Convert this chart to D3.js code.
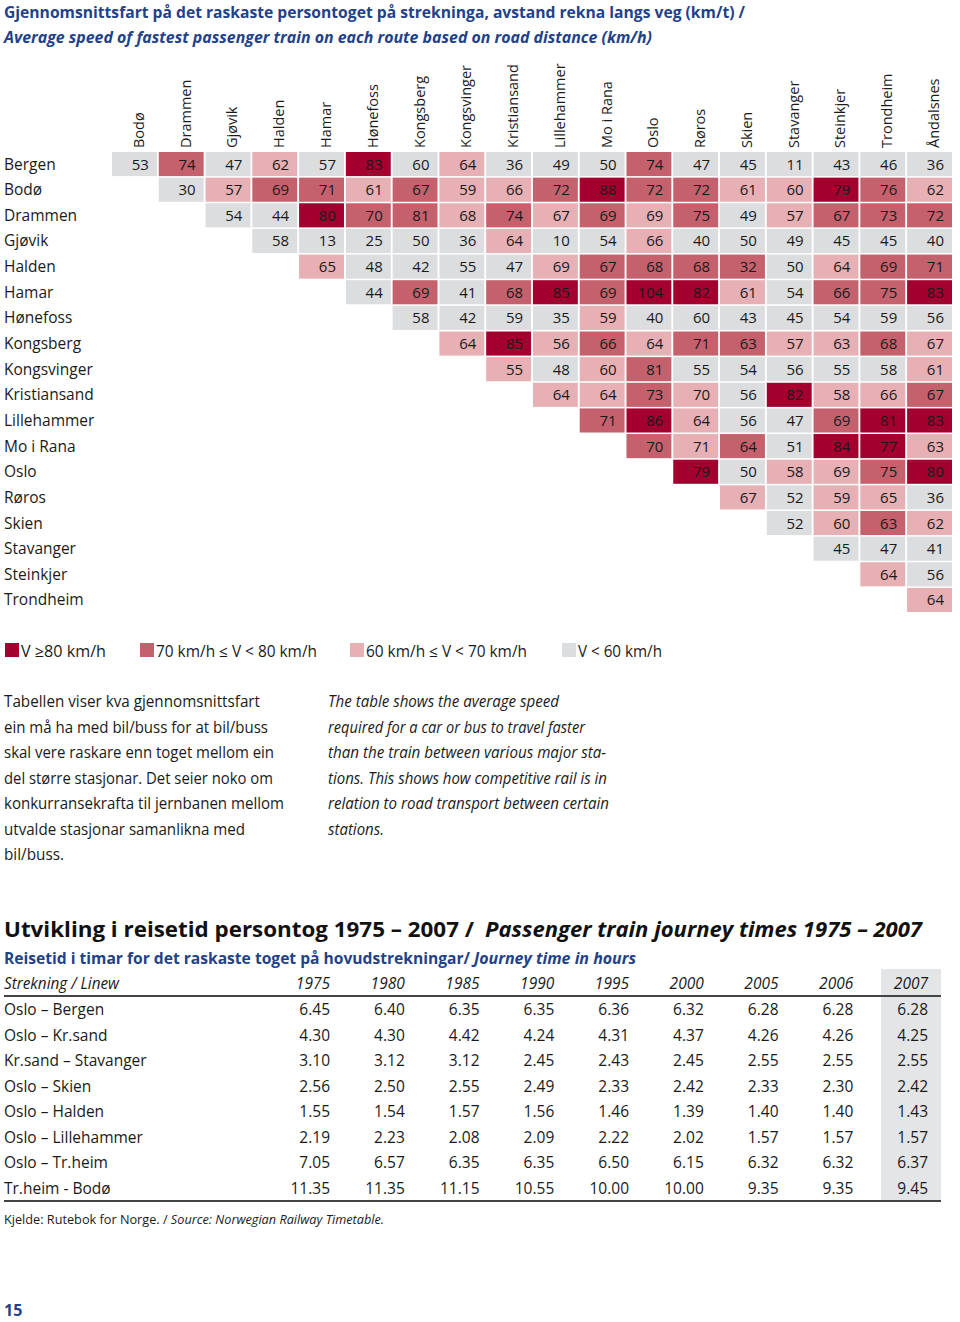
<!DOCTYPE html>
<html>
<head>
<meta charset="utf-8">
<script src="https://cdn.jsdelivr.net/npm/d3@7"></script>
<style>
  html, body { margin: 0; padding: 0; background: #fff; }
  svg { display: block; font-family: "Open Sans", "Noto Sans", sans-serif; }
</style>
</head>
<body>
<svg id="chart" width="960" height="1322"></svg>
<script>
// ---------------- DATA ----------------
const titleLine1 = "Gjennomsnittsfart på det raskaste persontoget på strekninga, avstand rekna langs veg (km/t) /";
const titleLine2 = "Average speed of fastest passenger train on each route based on road distance (km/h)";

const fromStations = ["Bergen","Bodø","Drammen","Gjøvik","Halden","Hamar","Hønefoss","Kongsberg","Kongsvinger",
  "Kristiansand","Lillehammer","Mo i Rana","Oslo","Røros","Skien","Stavanger","Steinkjer","Trondheim"];
const toStations = ["Bodø","Drammen","Gjøvik","Halden","Hamar","Hønefoss","Kongsberg","Kongsvinger","Kristiansand",
  "Lillehammer","Mo i Rana","Oslo","Røros","Skien","Stavanger","Steinkjer","Trondheim","Åndalsnes"];

// each row starts at the destination with the same index as the row
const speeds = [
  [53,74,47,62,57,83,60,64,36,49,50,74,47,45,11,43,46,36],
  [30,57,69,71,61,67,59,66,72,88,72,72,61,60,79,76,62],
  [54,44,80,70,81,68,74,67,69,69,75,49,57,67,73,72],
  [58,13,25,50,36,64,10,54,66,40,50,49,45,45,40],
  [65,48,42,55,47,69,67,68,68,32,50,64,69,71],
  [44,69,41,68,85,69,104,82,61,54,66,75,83],
  [58,42,59,35,59,40,60,43,45,54,59,56],
  [64,85,56,66,64,71,63,57,63,68,67],
  [55,48,60,81,55,54,56,55,58,61],
  [64,64,73,70,56,82,58,66,67],
  [71,86,64,56,47,69,81,83],
  [70,71,64,51,84,77,63],
  [79,50,58,69,75,80],
  [67,52,59,65,36],
  [52,60,63,62],
  [45,47,41],
  [64,56],
  [64]
];
// speed class as printed: d = ≥80, m = 70–80, l = 60–70, g = <60
const speedClass = [
  ["g","m","g","l","g","d","g","l","g","g","g","m","g","g","g","g","g","g"],
  ["g","l","m","m","l","m","l","l","m","d","m","m","l","l","d","m","l"],
  ["g","g","d","m","m","l","m","l","m","l","m","g","l","m","m","m"],
  ["g","g","g","g","g","l","g","g","l","g","g","g","g","g","g"],
  ["l","g","g","g","g","l","m","m","m","m","g","l","m","m"],
  ["g","m","g","m","d","m","d","d","l","g","m","m","d"],
  ["g","g","g","g","l","g","g","g","g","g","g","g"],
  ["l","d","l","m","l","m","m","l","l","m","l"],
  ["l","g","l","m","g","g","g","g","g","l"],
  ["l","l","m","l","g","d","l","l","m"],
  ["m","d","l","g","g","m","d","d"],
  ["m","l","m","g","d","d","l"],
  ["d","g","l","l","m","d"],
  ["l","g","l","l","g"],
  ["g","l","m","l"],
  ["g","g","g"],
  ["l","g"],
  ["l"]
];
const legendClasses = ["d","m","l","g"];
const legendLabels = ["V ≥80 km/h","70 km/h ≤ V < 80 km/h","60 km/h ≤ V < 70 km/h","V < 60 km/h"];

const textNo = ["Tabellen viser kva gjennomsnittsfart","ein må ha med bil/buss for at bil/buss",
  "skal vere raskare enn toget mellom ein","del større stasjonar. Det seier noko om",
  "konkurransekrafta til jernbanen mellom","utvalde stasjonar samanlikna med","bil/buss."];
const textEn = ["The table shows the average speed","required for a car or bus to travel faster",
  "than the train between various major sta-","tions. This shows how competitive rail is in",
  "relation to road transport between certain","stations."];

const title2a = "Utvikling i reisetid persontog 1975 – 2007 /";
const title2b = "Passenger train journey times 1975 – 2007";
const sub2a = "Reisetid i timar for det raskaste toget på hovudstrekningar/";
const sub2b = "Journey time in hours";
const lineHeader = "Strekning / Linew";
const years = ["1975","1980","1985","1990","1995","2000","2005","2006","2007"];
const lines = ["Oslo – Bergen","Oslo – Kr.sand","Kr.sand – Stavanger","Oslo – Skien","Oslo – Halden",
  "Oslo – Lillehammer","Oslo – Tr.heim","Tr.heim - Bodø"];
const journeyTimes = [
  ["6.45","6.40","6.35","6.35","6.36","6.32","6.28","6.28","6.28"],
  ["4.30","4.30","4.42","4.24","4.31","4.37","4.26","4.26","4.25"],
  ["3.10","3.12","3.12","2.45","2.43","2.45","2.55","2.55","2.55"],
  ["2.56","2.50","2.55","2.49","2.33","2.42","2.33","2.30","2.42"],
  ["1.55","1.54","1.57","1.56","1.46","1.39","1.40","1.40","1.43"],
  ["2.19","2.23","2.08","2.09","2.22","2.02","1.57","1.57","1.57"],
  ["7.05","6.57","6.35","6.35","6.50","6.15","6.32","6.32","6.37"],
  ["11.35","11.35","11.15","10.55","10.00","10.00","9.35","9.35","9.45"]
];
const highlightYear = "2007";
const sourceNo = "Kjelde: Rutebok for Norge. / ";
const sourceEn = "Source: Norwegian Railway Timetable.";
const pageNumber = "15";

// ---------------- DRAWING ----------------
const svg = d3.select("#chart");
const BLUE = "#1f4289", INK = "#1a1a1a";
const color = d3.scaleOrdinal().domain(["d","m","l","g"]).range(["#a3002f","#c4616d","#e6b0b4","#dcdddf"]);

function fit(sel, w) {
  sel.attr("textLength", w).attr("lengthAdjust", "spacingAndGlyphs");
  return sel;
}

// Titles
fit(svg.append("text").attr("x", 4).attr("y", 18).attr("fill", BLUE)
  .attr("font-size", 16.5).attr("font-weight", 700).text(titleLine1), 741);
fit(svg.append("text").attr("x", 4).attr("y", 43).attr("fill", BLUE)
  .attr("font-size", 16.5).attr("font-weight", 700).attr("font-style", "italic").text(titleLine2), 648);

// Heatmap scales
const x = d3.scaleBand().domain(toStations).range([112, 952]).paddingInner(0.04).paddingOuter(0);
const y = d3.scaleBand().domain(fromStations).range([152, 612]).paddingInner(0.06).paddingOuter(0);

const cells = [];
speeds.forEach((row, i) => row.forEach((v, k) => {
  cells.push({ from: fromStations[i], to: toStations[i + k], value: v, cls: speedClass[i][k] });
}));

// column labels
svg.append("g").selectAll("text").data(toStations).join("text")
  .attr("transform", d => `translate(${x(d) + x.bandwidth() - 13},148) rotate(-90)`)
  .attr("font-size", 14.5).attr("fill", INK).text(d => d);

// row labels
svg.append("g").selectAll("text").data(fromStations).join("text")
  .attr("x", 4).attr("y", d => y(d) + y.bandwidth() / 2 + 5.5)
  .attr("font-size", 15.5).attr("fill", INK).text(d => d);

const cg = svg.append("g").selectAll("g").data(cells).join("g");
cg.append("rect")
  .attr("x", d => x(d.to)).attr("y", d => y(d.from))
  .attr("width", x.bandwidth()).attr("height", y.bandwidth())
  .attr("fill", d => color(d.cls));
cg.append("text")
  .attr("x", d => x(d.to) + x.bandwidth() - 8)
  .attr("y", d => y(d.from) + y.bandwidth() / 2 + 5.5)
  .attr("text-anchor", "end").attr("font-size", 15).attr("fill", INK)
  .text(d => d.value);

// Legend
const legX = d3.scaleOrdinal().domain(legendClasses).range([5, 140, 350, 562]);
const legW = d3.scaleOrdinal().domain(legendClasses).range([85, 161, 161, 84]);
const lg = svg.append("g").selectAll("g").data(legendClasses).join("g");
lg.append("rect").attr("x", d => legX(d)).attr("y", 643).attr("width", 14).attr("height", 14)
  .attr("fill", d => color(d));
lg.append("text").attr("x", d => legX(d) + 16).attr("y", 657)
  .attr("font-size", 15.5).attr("fill", INK)
  .text((d, i) => legendLabels[i])
  .each(function (d) { fit(d3.select(this), legW(d)); });

// Paragraphs
const parY = d3.scalePoint().domain(d3.range(7)).range([707, 860]);
const noW = [256, 264, 270, 269, 280, 241, 60];
const enW = [231, 257, 278, 279, 281, 56];
svg.append("g").selectAll("text").data(textNo).join("text")
  .attr("x", 4).attr("y", (d, i) => parY(i)).attr("font-size", 16).attr("fill", INK)
  .text(d => d).each(function (d, i) { fit(d3.select(this), noW[i]); });
svg.append("g").selectAll("text").data(textEn).join("text")
  .attr("x", 328).attr("y", (d, i) => parY(i)).attr("font-size", 16).attr("font-style", "italic").attr("fill", INK)
  .text(d => d).each(function (d, i) { fit(d3.select(this), enW[i]); });

// Second section titles
fit(svg.append("text").attr("x", 4).attr("y", 937).attr("font-size", 22).attr("font-weight", 700)
  .attr("fill", "#111").text(title2a), 470);
fit(svg.append("text").attr("x", 485).attr("y", 937).attr("font-size", 22).attr("font-weight", 700)
  .attr("font-style", "italic").attr("fill", "#111").text(title2b), 437);
fit(svg.append("text").attr("x", 4).attr("y", 964).attr("font-size", 16).attr("font-weight", 700)
  .attr("fill", BLUE).text(sub2a), 466);
fit(svg.append("text").attr("x", 474).attr("y", 964).attr("font-size", 16).attr("font-weight", 700)
  .attr("font-style", "italic").attr("fill", BLUE).text(sub2b), 162);

// Journey time table
const yx = d3.scalePoint().domain(years).range([330, 928]);
const ry = d3.scaleBand().domain(lines).range([997, 1201]);

svg.append("rect").attr("x", yx(highlightYear) - 47).attr("y", 969)
  .attr("width", 60).attr("height", 1201 - 969).attr("fill", "#e4e5e7");

svg.append("text").attr("x", 4).attr("y", 989).attr("font-size", 15.5).attr("font-style", "italic")
  .attr("fill", INK).text(lineHeader).call(s => fit(s, 115));
svg.append("g").selectAll("text").data(years).join("text")
  .attr("x", d => yx(d)).attr("y", 989).attr("text-anchor", "end")
  .attr("font-size", 15.5).attr("font-style", "italic").attr("fill", INK).text(d => d);

svg.append("line").attr("x1", 4).attr("x2", 941).attr("y1", 996).attr("y2", 996)
  .attr("stroke", "#444").attr("stroke-width", 2);
svg.append("line").attr("x1", 4).attr("x2", 941).attr("y1", 1201).attr("y2", 1201)
  .attr("stroke", "#444").attr("stroke-width", 2);

svg.append("g").selectAll("text").data(lines).join("text")
  .attr("x", 4).attr("y", d => ry(d) + ry.bandwidth() / 2 + 5.5)
  .attr("font-size", 15.5).attr("fill", INK).text(d => d);

const tcells = [];
journeyTimes.forEach((row, i) => row.forEach((v, k) => tcells.push({ line: lines[i], year: years[k], v })));
svg.append("g").selectAll("text").data(tcells).join("text")
  .attr("x", d => yx(d.year)).attr("y", d => ry(d.line) + ry.bandwidth() / 2 + 5.5)
  .attr("text-anchor", "end").attr("font-size", 15.5).attr("fill", INK).text(d => d.v);

// Source
const src = svg.append("text").attr("x", 4).attr("y", 1224).attr("font-size", 12.5).attr("fill", INK);
src.append("tspan").text(sourceNo);
src.append("tspan").attr("font-style", "italic").text(sourceEn);
fit(src, 380);

// Page number
svg.append("text").attr("x", 4).attr("y", 1316).attr("font-size", 16).attr("font-weight", 700)
  .attr("fill", BLUE).text(pageNumber);
</script>
</body>
</html>
